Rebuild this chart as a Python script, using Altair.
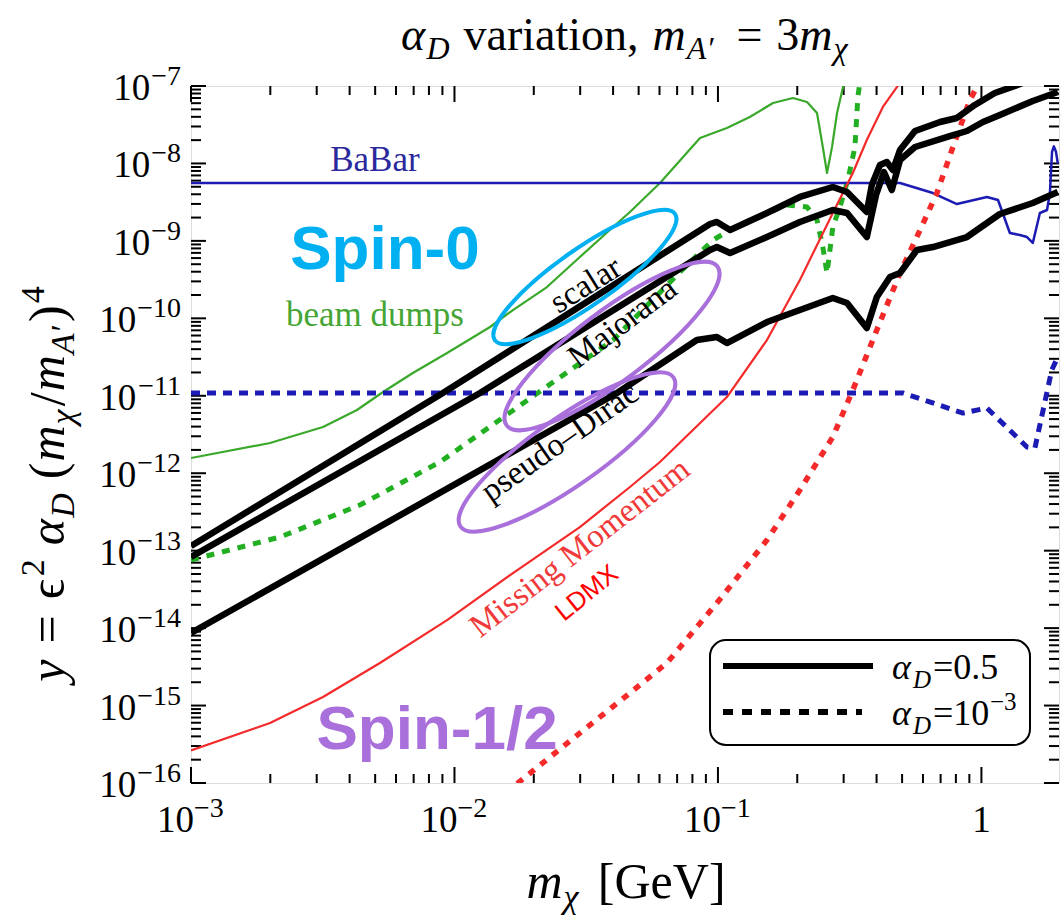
import altair as alt
import pandas as pd

# ---------------- curves: log10(m_chi / GeV), log10(y) ----------------
# BaBar, alpha_D = 0.5 (solid blue)
babar_logm = [-3.000, -0.309, -0.184, -0.093, 0.021, 0.063, 0.108, 0.146, 0.173, 0.195, 0.222, 0.249, 0.260, 0.268, 0.275, 0.283, 0.290]
babar_logy = [-8.253, -8.253, -8.382, -8.524, -8.433, -8.472, -8.898, -8.924, -8.950, -9.027, -8.640, -8.601, -8.382, -7.850, -7.780, -7.850, -8.000]
# BaBar, alpha_D = 1e-3 (dashed blue)
babar_d_logm = [-3.000, -0.298, -0.070, 0.021, 0.173, 0.203, 0.267, 0.290]
babar_d_logy = [-10.964, -10.964, -11.223, -11.158, -11.662, -11.675, -10.667, -10.500]
# beam dumps, alpha_D = 0.5 (solid green)
dump_logm = [-3.000, -2.700, -2.499, -2.370, -2.271, -2.158, -2.028, -1.865, -1.778, -1.649, -1.524, -1.398, -1.334, -1.220,
             -1.068, -0.966, -0.879, -0.791, -0.715, -0.662, -0.624, -0.602, -0.586, -0.567, -0.548, -0.526, -0.500]
dump_logy = [-11.804, -11.610, -11.403, -11.184, -10.951, -10.706, -10.448, -10.112, -9.893, -9.596, -9.208, -8.821, -8.627, -8.253,
             -7.671, -7.542, -7.400, -7.220, -7.155, -7.207, -7.349, -7.788, -8.123, -7.788, -7.349, -7.026, -6.700]
# beam dumps, alpha_D = 1e-3 (dashed green)
dump_d_logm = [-3.000, -2.662, -2.359, -2.055, -1.695, -1.398, -1.144, -1.019, -0.966, -0.879, -0.738, -0.662, -0.624,
               -0.602, -0.586, -0.564, -0.537, -0.507, -0.480, -0.469, -0.455]
dump_d_logy = [-13.121, -12.824, -12.411, -11.855, -10.990, -10.280, -9.402, -8.989, -8.885, -8.730, -8.537, -8.562, -8.730,
               -9.079, -9.415, -8.821, -8.562, -8.214, -7.788, -7.142, -6.800]
# relic targets, alpha_D = 0.5 (black)
scalar_logm = [-3.000, -2.044, -1.030, -1.004, -0.954, -0.814, -0.689, -0.564, -0.510, -0.435, -0.416, -0.385, -0.359, -0.336,
               -0.309, -0.252, -0.157, -0.093, -0.025, 0.051, 0.127, 0.203]
scalar_logy = [-12.940, -10.964, -8.782, -8.756, -8.860, -8.640, -8.433, -8.304, -8.369, -8.627, -8.278, -8.020, -7.981, -8.085,
               -7.826, -7.581, -7.465, -7.413, -7.245, -7.090, -7.000, -6.897]
majorana_logm = [-3.000, -1.903, -1.030, -1.004, -0.954, -0.814, -0.689, -0.564, -0.510, -0.435, -0.400, -0.370, -0.340,
                 -0.309, -0.252, -0.120, -0.055, 0.006, 0.070, 0.195, 0.290]
majorana_logy = [-13.080, -10.964, -9.118, -9.079, -9.157, -8.950, -8.756, -8.601, -8.640, -8.950, -8.408, -8.111, -8.343,
                 -7.956, -7.788, -7.646, -7.581, -7.465, -7.374, -7.194, -7.077]
pdirac_logm = [-3.000, -1.383, -1.080, -1.004, -0.966, -0.814, -0.564, -0.510, -0.435, -0.397, -0.347, -0.309, -0.245,
               -0.184, -0.055, 0.070, 0.195, 0.290]
pdirac_logy = [-14.063, -10.964, -10.280, -10.241, -10.319, -10.048, -9.738, -9.802, -10.125, -9.725, -9.466, -9.415, -9.118,
               -9.079, -8.950, -8.653, -8.511, -8.369]
# LDMX missing momentum (red): alpha_D = 0.5 solid, 1e-3 dotted
ldmx_logm = [-3.000, -2.700, -2.499, -2.283, -2.028, -1.778, -1.524, -1.334, -1.220, -0.966, -0.814, -0.689, -0.564,
             -0.488, -0.435, -0.374, -0.321, -0.290]
ldmx_logy = [-15.580, -15.226, -14.890, -14.451, -13.896, -13.289, -12.695, -12.178, -11.855, -11.016, -10.280, -9.505, -8.640,
             -8.123, -7.697, -7.271, -7.013, -6.858]
ldmx_d_logm = [-1.800, -1.759, -1.543, -1.334, -1.194, -1.004, -0.814, -0.689, -0.564, -0.488, -0.397, -0.309, -0.233,
               -0.169, -0.108, -0.044, -0.013]
ldmx_d_logy = [-16.150, -16.000, -15.406, -14.838, -14.451, -13.676, -12.863, -12.217, -11.532, -10.926, -10.151, -9.415,
               -8.860, -8.382, -7.788, -7.181, -6.987]

# axis tick values and labels
x_major = [1e-3, 1e-2, 1e-1]
x_major_exp = ["−3", "−2", "−1"]
x_one = [1.0]
x_minor = [k * d for d in (1e-3, 1e-2, 1e-1) for k in range(2, 10)]
y_major_exp = list(range(-16, -6))
y_major = [10.0 ** e for e in y_major_exp]
y_minor = [k * 10.0 ** e for e in range(-16, -7) for k in range(2, 10)]

# ---------------- layout ----------------
W, H = 868, 697
L0, T0 = 191, 86
XS = alt.Scale(type="log", domain=[1e-3, 1.97], nice=False)
YS = alt.Scale(type="log", domain=[1e-16, 1e-7], nice=False)
SERIF = "Liberation Serif"
SANS = "Liberation Sans"
ONE = pd.DataFrame({"a": [0]})

ROMAN = {' ': .25, 'a': .444, 'b': .5, 'c': .444, 'd': .5, 'e': .444, 'f': .333, 'g': .5, 'h': .5, 'i': .278, 'j': .278,
         'k': .5, 'l': .278, 'm': .778, 'n': .5, 'o': .5, 'p': .5, 'r': .333, 's': .389, 't': .278, 'u': .5, 'v': .5,
         'G': .722, 'V': .722, 'A': .722, 'D': .722, '=': .564, '(': .333, ')': .333, '[': .333, ']': .333, '/': .278,
         ',': .25, '.': .25, 'ϵ': .44, '′': .28, '−': .564}
ITALIC = {'m': .722, 'y': .444, 'A': .611, 'D': .722, 'α': .53, 'χ': .48, '′': .25}


def tw(s, size, italic):
    tab = ITALIC if italic else ROMAN
    return sum(tab.get(c, ROMAN.get(c, .5)) for c in s) * size


def curve(logm, logy):
    return pd.DataFrame({"m": [10.0 ** v for v in logm], "y": [10.0 ** v for v in logy],
                         "i": list(range(len(logm)))})


XE = alt.X("m:Q", scale=XS, axis=None)
YE = alt.Y("y:Q", scale=YS, axis=None)


def line(logm, logy, color, width, dash=None):
    props = dict(color=color, strokeWidth=width, clip=True, strokeCap="butt", strokeJoin="round")
    if dash is not None:
        props["strokeDash"] = dash
    return alt.Chart(curve(logm, logy)).mark_line(**props).encode(x=XE, y=YE, order="i:Q")


def ptext(text, x, y, size, font=SERIF, italic=False, weight="normal", color="black", angle=0,
          align="left", baseline="alphabetic"):
    return alt.Chart(ONE).mark_text(text=text, font=font, fontSize=size, fontStyle="italic" if italic else "normal",
                                    fontWeight=weight, color=color, angle=angle, align=align,
                                    baseline=baseline).encode(x=alt.value(x - L0), y=alt.value(y - T0))


def dtext(text, logm, logy, size, font=SERIF, weight="normal", color="black", angle=0):
    d = pd.DataFrame({"m": [10.0 ** logm], "y": [10.0 ** logy]})
    return alt.Chart(d).mark_text(text=text, font=font, fontSize=size, fontWeight=weight, color=color, angle=angle,
                                  align="center", baseline="middle").encode(x=XE, y=YE)


def ellipse(logm, logy, width_px, ratio, tilt, color):
    k = 0.5523
    r = ratio
    path = (f"M 1 0 C 1 {k*r:.4f} {k:.4f} {r:.4f} 0 {r:.4f} C {-k:.4f} {r:.4f} -1 {k*r:.4f} -1 0 "
            f"C -1 {-k*r:.4f} {-k:.4f} {-r:.4f} 0 {-r:.4f} C {k:.4f} {-r:.4f} 1 {-k*r:.4f} 1 0 Z")
    d = pd.DataFrame({"m": [10.0 ** logm], "y": [10.0 ** logy]})
    return alt.Chart(d).mark_point(shape=path, size=width_px ** 2, angle=360 - tilt, filled=False, stroke=color,
                                   strokeWidth=4, opacity=1).encode(x=XE, y=YE)


def rich_h(pieces, cx, base_y):
    # pieces: (text, size, italic, shift, gap_before) laid out left to right, centred on cx
    total = sum(tw(t, s, it) + g for (t, s, it, sh, g) in pieces)
    x = cx - total / 2
    out = []
    for (t, s, it, sh, g) in pieces:
        x += g
        out.append(ptext(t, x, base_y + sh, s, italic=it))
        x += tw(t, s, it)
    return out


def rich_v(pieces, cy, base_x):
    # reads bottom to top (rotated 270)
    total = sum(tw(t, s, it) + g for (t, s, it, sh, g) in pieces)
    pos = cy + total / 2
    out = []
    for (t, s, it, sh, g) in pieces:
        pos -= g
        out.append(ptext(t, base_x + sh, pos, s, italic=it, angle=270))
        pos -= tw(t, s, it)
    return out


def ticks_x(vals, length):
    d = pd.DataFrame({"m": vals})
    b = alt.Chart(d).mark_rule(color="black", strokeWidth=2).encode(x=XE, y=alt.value(H), y2=alt.value(H - length))
    t = alt.Chart(d).mark_rule(color="black", strokeWidth=2).encode(x=XE, y=alt.value(0), y2=alt.value(length))
    return [b, t]


def ticks_y(vals, length):
    d = pd.DataFrame({"y": vals})
    l = alt.Chart(d).mark_rule(color="black", strokeWidth=2).encode(y=YE, x=alt.value(0), x2=alt.value(length))
    r = alt.Chart(d).mark_rule(color="black", strokeWidth=2).encode(y=YE, x=alt.value(W), x2=alt.value(W - length))
    return [l, r]


# excluded region: above min(beam dumps, BaBar) is gray
gray_logm = dump_logm[:14] + babar_logm[1:]
gray_logy = dump_logy[:14] + babar_logy[1:]
gray = alt.Chart(curve(gray_logm, gray_logy)).mark_area(color="#dcdcdc", orient="vertical", clip=True).encode(
    x=XE, y=YE, y2=alt.value(0))

layers = [gray]
layers += ticks_x(x_minor, 9) + ticks_x(x_major + x_one, 16) + ticks_y(y_minor, 10) + ticks_y(y_major, 15)

# tick labels (10 with superscript exponent)
LAB, EXP = 37, 28
ydf = pd.DataFrame({"y": y_major, "e": [f"−{-e}" for e in y_major_exp], "two": [e <= -10 for e in y_major_exp]})
layers.append(alt.Chart(ydf).mark_text(font=SERIF, fontSize=EXP, align="right", baseline="alphabetic", dy=-1).encode(
    y=YE, x=alt.value(181 - L0), text="e:N"))
for two, grp in ydf.groupby("two"):
    right = 181 - tw("−16" if two else "−7", EXP, False) - 1
    layers.append(alt.Chart(grp).mark_text(text="10", font=SERIF, fontSize=LAB, align="right", baseline="alphabetic",
                                           dy=14).encode(y=YE, x=alt.value(right - L0)))
xdf = pd.DataFrame({"m": x_major, "e": x_major_exp})
layers.append(alt.Chart(xdf).mark_text(text="10", font=SERIF, fontSize=LAB, align="left", baseline="alphabetic",
                                       dx=-34).encode(x=XE, y=alt.value(832 - T0)))
layers.append(alt.Chart(xdf).mark_text(font=SERIF, fontSize=EXP, align="left", baseline="alphabetic",
                                       dx=3).encode(x=XE, y=alt.value(817 - T0), text="e:N"))
layers.append(alt.Chart(pd.DataFrame({"m": x_one})).mark_text(text="1", font=SERIF, fontSize=LAB, align="center",
                                                              baseline="alphabetic").encode(x=XE, y=alt.value(832 - T0)))

GREEN = "#3aa82a"
GREEN_D = "#22b022"
BLUE = "#1c1cb4"
RED = "#f42a2a"
layers += [
    line(dump_logm, dump_logy, GREEN, 2.2),
    line(dump_d_logm, dump_d_logy, GREEN_D, 5, [8, 8]),
    line(babar_logm, babar_logy, BLUE, 2.5),
    line(babar_d_logm, babar_d_logy, BLUE, 5, [9, 7]),
    line(ldmx_logm, ldmx_logy, RED, 2.2),
    line(ldmx_d_logm, ldmx_d_logy, RED, 5.5, [7, 8]),
    line(scalar_logm, scalar_logy, "black", 6.5),
    line(majorana_logm, majorana_logy, "black", 6.5),
    line(pdirac_logm, pdirac_logy, "black", 6.5),
]

# in-plot labels
layers += [
    dtext("BaBar", -2.302, -7.956, 35, color="#2a2a9c"),
    dtext("beam dumps", -2.302, -9.957, 35, color="#45a535"),
    dtext("scalar", -1.501, -9.570, 33, angle=328),
    dtext("Majorana", -1.362, -10.060, 33, angle=323),
    dtext("pseudo–Dirac", -1.600, -11.600, 33, angle=325),
    dtext("Missing Momentum", -1.524, -12.966, 33, color="#f03a3a", angle=322),
    dtext("LDMX", -1.497, -13.547, 26, font=SANS, color="#ff0000", angle=321),
    dtext("Spin-0", -2.264, -9.118, 62, font=SANS, weight="bold", color="#00b0f0"),
    dtext("Spin-1/2", -2.066, -15.316, 62, font=SANS, weight="bold", color="#a970db"),
    ellipse(-1.505, -9.466, 220, 0.255, 35, "#00b0f0"),
    ellipse(-1.402, -10.357, 264, 0.265, 37, "#a970db"),
    ellipse(-1.573, -11.726, 260, 0.262, 35, "#a970db"),
]

# legend
layers += [
    alt.Chart(ONE).mark_rect(fill="white", stroke="black", strokeWidth=2, cornerRadius=16).encode(
        x=alt.value(710 - L0), x2=alt.value(1030 - L0), y=alt.value(640 - T0), y2=alt.value(745 - T0)),
    alt.Chart(ONE).mark_rule(color="black", strokeWidth=6).encode(
        x=alt.value(723 - L0), x2=alt.value(873 - L0), y=alt.value(666 - T0)),
    alt.Chart(ONE).mark_rule(color="black", strokeWidth=6, strokeDash=[10, 9]).encode(
        x=alt.value(723 - L0), x2=alt.value(862 - L0), y=alt.value(712 - T0)),
    ptext("α", 892, 679, 36, italic=True), ptext("D", 913, 688, 25, italic=True), ptext("=0.5", 933, 679, 36),
    ptext("α", 892, 725, 36, italic=True), ptext("D", 913, 734, 25, italic=True), ptext("=10", 933, 725, 36),
    ptext("−3", 990, 710, 25),
]

# title
layers += rich_h([
    ("α", 46, True, 0, 0), ("D", 32, True, 9, 1), ("variation,", 46, False, 0, 14),
    ("m", 46, True, 0, 14), ("A′", 32, True, 9, 1), ("=", 46, False, 0, 22),
    ("3", 46, False, 0, 14), ("m", 46, True, 0, 0), ("χ", 32, True, 9, 1),
], cx=625, base_y=50)
# x-axis title
layers += rich_h([("m", 50, True, 0, 0), ("χ", 34, True, 10, 1), ("[GeV]", 50, False, 0, 18)], cx=626, base_y=898)
# y-axis title
layers += rich_v([
    ("y", 50, True, 0, 0), ("=", 50, False, 0, 16), ("ϵ", 50, False, 0, 16), ("2", 34, False, -20, 1),
    ("α", 50, True, 0, 14), ("D", 34, True, 10, 1), ("(", 50, False, 0, 14), ("m", 50, True, 0, 1),
    ("χ", 34, True, 10, 1), ("/", 50, False, 0, 2), ("m", 50, True, 0, 1), ("A′", 34, True, 10, 1),
    (")", 50, False, 0, 3), ("4", 34, False, -20, 2),
], cy=484, base_x=64)

chart = alt.layer(*layers).properties(
    width=W, height=H,
    padding={"left": L0, "top": T0, "right": 1063 - L0 - W, "bottom": 923 - T0 - H},
    autosize=alt.AutoSizeParams(type="none"),
).configure_view(stroke="black", strokeWidth=2.5, fill="white").configure(background="white")

chart.save("out.html", embed_options={"renderer": "svg", "actions": False})
